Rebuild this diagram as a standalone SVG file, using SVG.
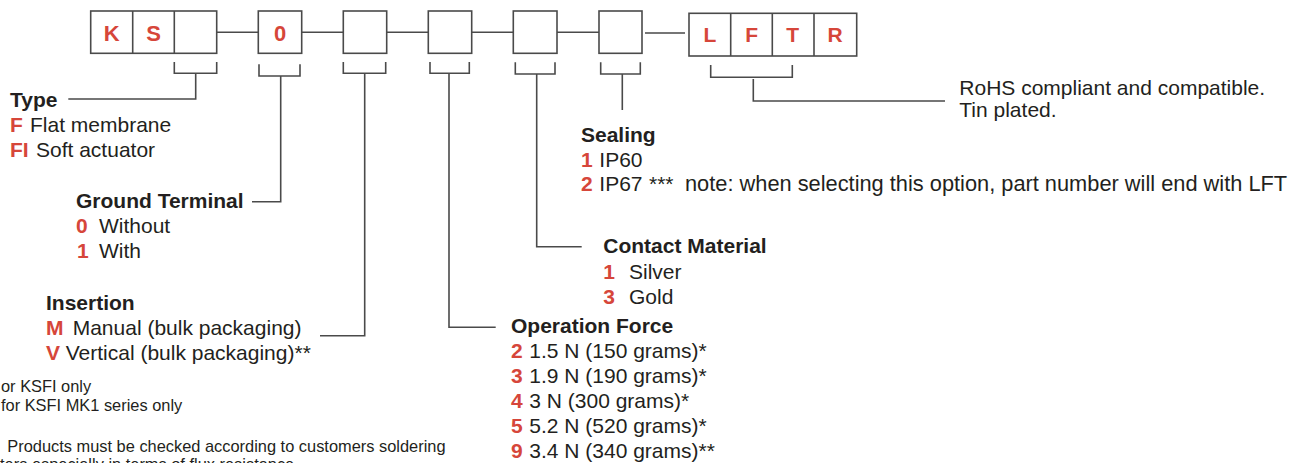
<svg xmlns="http://www.w3.org/2000/svg" width="1302" height="463" viewBox="0 0 1302 463">
<style>
text{font-family:"Liberation Sans",Arial,Helvetica,sans-serif;fill:#231f20;font-size:21px}
.h{font-weight:bold}
.r{font-weight:bold;fill:#d6463a}
.box{fill:#fff;stroke:#4a4a4a;stroke-width:1.6}
.ln{fill:none;stroke:#4a4a4a;stroke-width:1.6}
.bl{font-size:22px;font-weight:bold;fill:#d6463a;text-anchor:middle}
.fn{font-size:16.4px}
</style>
<g id="connectors">
<path class="ln" d="M216.7 32.3H258.3M301.7 32.3H343.3M386.7 32.3H428.3M471.7 32.3H513.3M557 32.3H599M645 33H685"/>
<path class="ln" d="M174.3 62V73.3H216.7V62M195.7 73.3V99H68.3"/>
<path class="ln" d="M259 64.3V76H300V64.3M280.7 76V201.7H252"/>
<path class="ln" d="M343.3 62V73.3H385.7V62M364.7 73.3V335.7H320"/>
<path class="ln" d="M430 62V73.3H469.3V62M449 73.3V327.3H495.7"/>
<path class="ln" d="M515.3 62.3V74H555V62.3M536.7 74V246.7H581.7"/>
<path class="ln" d="M600.7 62.3V74H640.3V62.3M622.3 74V110"/>
<path class="ln" d="M710.7 65V77.3H792.3V65M753.3 79V101H945"/>
</g>
<g id="box-ks">
<rect class="box" x="90.7" y="11" width="126" height="42.3"/>
<path class="ln" d="M132.7 11V53.3M174.3 11V53.3"/>
<text class="bl" x="111.7" y="40.7">K</text>
<text class="bl" x="153.5" y="40.7">S</text>
</g>
<g id="box-ground">
<rect class="box" x="258.3" y="11" width="43.4" height="42.3"/>
<text class="bl" x="280" y="40.7">0</text>
</g>
<g id="box-insertion"><rect class="box" x="343.3" y="11" width="43.4" height="42.3"/></g>
<g id="box-force"><rect class="box" x="428.3" y="11" width="43.4" height="42.3"/></g>
<g id="box-contact"><rect class="box" x="513.3" y="11" width="43.7" height="42.3"/></g>
<g id="box-sealing"><rect class="box" x="599" y="11" width="43" height="42.3"/></g>
<g id="box-lftr">
<rect class="box" x="689" y="13.3" width="167.7" height="42.7"/>
<path class="ln" d="M730.7 13.3V56M772.3 13.3V56M814 13.3V56"/>
<text class="bl" x="710" y="41.7" style="font-size:21px">L</text>
<text class="bl" x="751.7" y="41.7" style="font-size:21px">F</text>
<text class="bl" x="792.7" y="41.7" style="font-size:21px">T</text>
<text class="bl" x="835" y="41.7" style="font-size:21px">R</text>
</g>
<g id="type">
<text class="h" x="10" y="106.5">Type</text>
<text y="131.5"><tspan class="r" x="10">F</tspan><tspan x="30">Flat membrane</tspan></text>
<text y="156.5"><tspan class="r" x="10">FI</tspan><tspan x="36">Soft actuator</tspan></text>
</g>
<g id="ground-terminal">
<text class="h" x="76" y="208.3">Ground Terminal</text>
<text y="233.3"><tspan class="r" x="76">0</tspan><tspan x="99">Without</tspan></text>
<text y="258.3"><tspan class="r" x="77">1</tspan><tspan x="99">With</tspan></text>
</g>
<g id="insertion">
<text class="h" x="46" y="310">Insertion</text>
<text y="335"><tspan class="r" x="46">M</tspan><tspan x="72.7">Manual (bulk packaging)</tspan></text>
<text y="360"><tspan class="r" x="46">V</tspan><tspan x="65.7">Vertical (bulk packaging)**</tspan></text>
</g>
<g id="footnotes">
<text class="fn" x="1" y="391.7">or KSFI only</text>
<text class="fn" x="1" y="410.7">for KSFI MK1 series only</text>
<text class="fn" x="7.3" y="451.7">Products must be checked according to customers soldering</text>
<text class="fn" x="0" y="470">ters especially in terms of flux resistance</text>
</g>
<g id="operation-force">
<text class="h" x="511" y="333.3">Operation Force</text>
<text y="358.3"><tspan class="r" x="511">2</tspan><tspan x="529.3">1.5 N (150 grams)*</tspan></text>
<text y="383.3"><tspan class="r" x="511">3</tspan><tspan x="529.3">1.9 N (190 grams)*</tspan></text>
<text y="408.3"><tspan class="r" x="511">4</tspan><tspan x="529.3">3 N (300 grams)*</tspan></text>
<text y="433.3"><tspan class="r" x="511">5</tspan><tspan x="529.3">5.2 N (520 grams)*</tspan></text>
<text y="458.3"><tspan class="r" x="511">9</tspan><tspan x="529.3">3.4 N (340 grams)**</tspan></text>
</g>
<g id="contact-material">
<text class="h" x="603.3" y="253.3">Contact Material</text>
<text y="279"><tspan class="r" x="603.3">1</tspan><tspan x="629">Silver</tspan></text>
<text y="304"><tspan class="r" x="603.3">3</tspan><tspan x="629">Gold</tspan></text>
</g>
<g id="sealing">
<text class="h" x="581" y="141.7">Sealing</text>
<text y="166.5"><tspan class="r" x="581">1</tspan><tspan x="599.3">IP60</tspan></text>
<text y="190.5"><tspan class="r" x="581">2</tspan><tspan x="599.3">IP67</tspan><tspan x="649">***</tspan><tspan x="685" style="font-size:21.8px">note: when selecting this option, part number will end with LFT</tspan></text>
</g>
<g id="rohs">
<text x="959.3" y="95.3">RoHS compliant and compatible.</text>
<text x="959.3" y="117.3">Tin plated.</text>
</g>
</svg>
